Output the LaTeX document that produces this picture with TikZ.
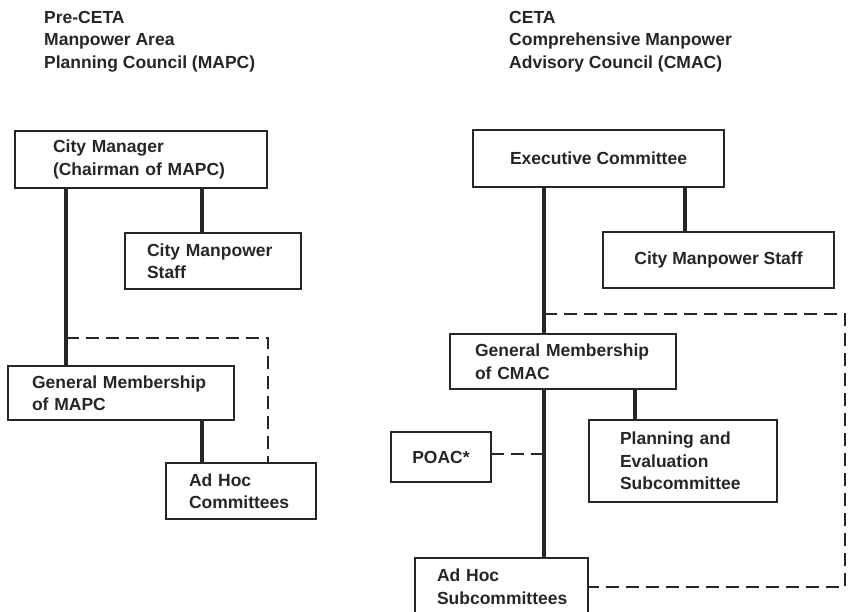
\documentclass[tikz,border=0pt]{standalone}
\usepackage{fontspec}
\setmainfont{Liberation Sans}
\begin{document}
\begin{tikzpicture}[x=1pt,y=-1pt,
  txt/.style={font=\fontsize{17.5}{22.5}\selectfont\bfseries, color=black!85},
  box/.style={txt, draw=black!85, line width=2.7pt, anchor=north west, align=left, inner ysep=0pt, outer sep=0pt},
  cbox/.style={txt, draw=black!85, line width=2.7pt, anchor=north west, align=center, inner sep=0pt, outer sep=0pt},
  conn/.style={draw=black!85, line width=3.2pt},
  dconn/.style={draw=black!85, line width=2.9pt, dash pattern=on 13pt off 7pt},
  title/.style={txt, anchor=north west, align=left, inner sep=0pt}]
\useasboundingbox (0,0) rectangle (850,612);
\clip (0,0) rectangle (850,612);
% titles
\node[title] (tL) at (44,11) {Pre-CETA\\Manpower Area\\Planning Council (MAPC)};
\node[title] (tR) at (509,11) {CETA\\Comprehensive Manpower\\Advisory Council (CMAC)};
% left boxes
\node[box, inner xsep=38pt, text width=176pt, minimum height=57pt] (cmL) at (15,131) {City Manager\\(Chairman of MAPC)};
\node[box, inner xsep=22pt, text width=132pt, minimum height=56pt] (staffL) at (125,233) {City Manpower\\Staff};
\node[box, inner xsep=24pt, text width=178pt, minimum height=54pt] (gmL) at (8,366) {General Membership\\of MAPC};
\node[box, inner xsep=23pt, text width=104pt, minimum height=56pt] (adhocL) at (166,463) {Ad Hoc\\Committees};
% right boxes
\node[cbox, minimum width=251pt, minimum height=57pt] (exec) at (473,130) {Executive Committee};
\node[cbox, minimum width=231pt, minimum height=56pt] (staffR) at (603,232) {City Manpower Staff};
\node[box, inner xsep=25pt, text width=176pt, minimum height=55pt] (gmR) at (450,334) {General Membership\\of CMAC};
\node[box, inner xsep=31pt, text width=126pt, minimum height=82pt] (pe) at (589,420) {Planning and\\Evaluation\\Subcommittee};
\node[cbox, minimum width=100pt, minimum height=50pt] (poac) at (391,432) {POAC*};
\node[box, inner xsep=22pt, text width=129pt, minimum height=57pt] (adhocR) at (415,558) {Ad Hoc\\Subcommittees};
% left connectors
\coordinate (mL) at (66,0);
\coordinate (sL) at (202,0);
\coordinate (dL) at (268,338);
\draw[conn] (cmL.south -| mL) -- (gmL.north -| mL);
\draw[conn] (cmL.south -| sL) -- (staffL.north -| sL);
\draw[conn] (gmL.south -| sL) -- (adhocL.north -| sL);
\draw[dconn] (mL |- dL) -- (dL) -- (adhocL.north -| dL);
% right connectors
\coordinate (mR) at (544,0);
\coordinate (sR) at (685,0);
\coordinate (pR) at (635,0);
\coordinate (dR) at (845,314);
\coordinate (dR2) at (845,587);
\draw[conn] (exec.south -| mR) -- (gmR.north -| mR);
\draw[conn] (exec.south -| sR) -- (staffR.north -| sR);
\draw[conn] (gmR.south -| mR) -- (adhocR.north -| mR);
\draw[conn] (gmR.south -| pR) -- (pe.north -| pR);
\draw[dconn] (mR |- dR) -- (dR) -- (dR2) -- (adhocR.east |- dR2);
\draw[dconn] (poac.east |- 0,454) -- (mR |- 0,454);
\end{tikzpicture}
\end{document}
